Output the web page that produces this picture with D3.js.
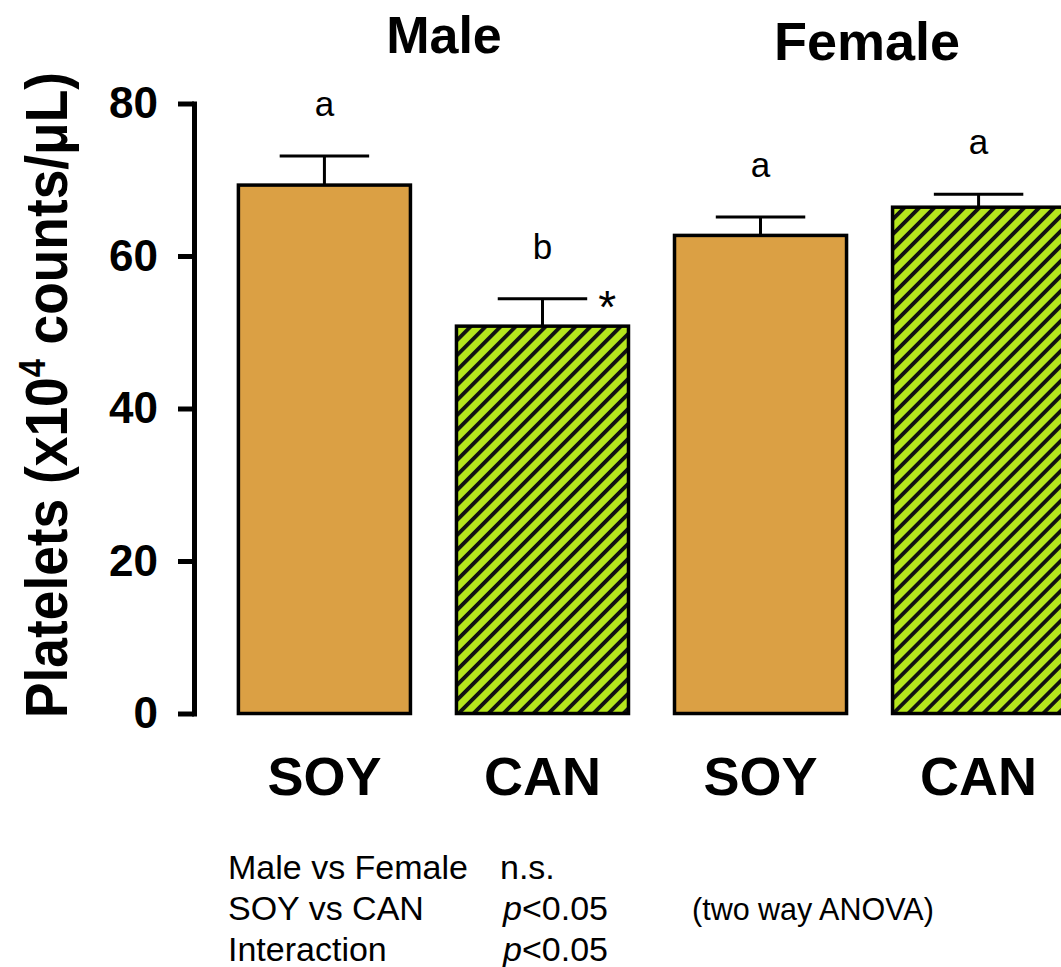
<!DOCTYPE html>
<html>
<head>
<meta charset="utf-8">
<script src="https://cdn.jsdelivr.net/npm/d3@7"></script>
<style>
  body { margin: 0; background: #fff; }
  svg { display: block; font-family: 'Liberation Sans', Arial, sans-serif; }
</style>
</head>
<body>
<svg id="chart" width="1061" height="967"></svg>
<script>
// data
const groups = ['Male', 'Female']
const diets = ['SOY', 'CAN']
const bars = ['Male-SOY', 'Male-CAN', 'Female-SOY', 'Female-CAN']
const means = [69.3, 50.8, 62.7, 66.4]
const errors = [3.8, 3.6, 2.4, 1.7]
const letters = ['a', 'b', 'a', 'a']
const stars = ['', '*', '', '']
const yTicks = [0, 20, 40, 60, 80]
const statRows = ['Male vs Female', 'SOY vs CAN', 'Interaction']
const statValues = ['n.s.', '<0.05', '<0.05']

const svg = d3.select('#chart')

const x = d3.scaleBand()
  .domain(bars)
  .range([215.5, 1087.5])
  .paddingInner(0.211)
  .paddingOuter(0.105)

const y = d3.scaleLinear()
  .domain([0, 80])
  .range([713.5, 103.5])

// hatch for the canola bars
const defs = svg.append('defs')
defs.append('pattern')
    .attr('id', 'hatch')
    .attr('patternUnits', 'userSpaceOnUse')
    .attr('width', 10.6)
    .attr('height', 10.6)
    .attr('patternTransform', 'rotate(45)')
  .call(p => {
    p.append('rect').attr('width', 10.6).attr('height', 10.6).attr('fill', '#b5e61d')
    p.append('rect').attr('width', 3.8).attr('height', 10.6).attr('fill', '#111')
  })

// y axis
const axis = svg.append('g')
    .attr('transform', 'translate(194,0)')
    .call(d3.axisLeft(y).tickValues(yTicks).tickSizeInner(16).tickSizeOuter(0).tickPadding(20))
axis.select('.domain')
    .attr('stroke-width', 5)
    .attr('stroke-linecap', 'square')
axis.selectAll('.tick line').attr('stroke-width', 5)
axis.selectAll('.tick text')
    .attr('font-size', 44)
    .attr('font-weight', 'bold')
    .attr('font-family', "'Liberation Sans', Arial, sans-serif")
    .attr('fill', '#000')

// y axis title
svg.append('text')
    .attr('transform', 'translate(67,395) rotate(-90)')
    .attr('text-anchor', 'middle')
    .attr('font-size', 59)
    .attr('font-weight', 'bold')
    .attr('textLength', 646)
    .attr('lengthAdjust', 'spacingAndGlyphs')
  .call(t => {
    t.append('tspan').text('Platelets (x10')
    t.append('tspan').attr('font-size', 36).attr('dy', -22).text('4')
    t.append('tspan').attr('dy', 22).text(' counts/μL)')
  })

// bars
const barG = svg.append('g')
bars.forEach((b, i) => {
  const cx = x(b) + x.bandwidth() / 2
  const capW = x.bandwidth() * 0.52
  const top = y(means[i] + errors[i])

  // error bar (upper only, drawn behind the bar)
  barG.append('line')
      .attr('x1', cx).attr('x2', cx)
      .attr('y1', y(means[i])).attr('y2', top)
      .attr('stroke', '#000').attr('stroke-width', 3)
  barG.append('line')
      .attr('x1', cx - capW / 2).attr('x2', cx + capW / 2)
      .attr('y1', top).attr('y2', top)
      .attr('stroke', '#000').attr('stroke-width', 3)

  barG.append('rect')
      .attr('x', x(b))
      .attr('y', y(means[i]))
      .attr('width', x.bandwidth())
      .attr('height', y(0) - y(means[i]))
      .attr('fill', b.endsWith('CAN') ? 'url(#hatch)' : '#dba044')
      .attr('stroke', '#000')
      .attr('stroke-width', 3.5)

  barG.append('text')
      .attr('x', cx)
      .attr('y', top - 40)
      .attr('text-anchor', 'middle')
      .attr('font-size', 35)
      .text(letters[i])

  if (stars[i]) {
    barG.append('text')
        .attr('x', cx + capW / 2 + 20)
        .attr('y', top + 24)
        .attr('text-anchor', 'middle')
        .attr('font-size', 46)
        .text(stars[i])
  }

  // category label under each bar
  svg.append('text')
      .attr('x', cx)
      .attr('y', 795)
      .attr('text-anchor', 'middle')
      .attr('font-size', 54)
      .attr('font-weight', 'bold')
      .text(diets[i % 2])
})

// group titles over each pair
const titleX = [444, 867]
const titleY = [53, 60]
const titleSize = [52, 54]
groups.forEach((g, gi) => {
  svg.append('text')
      .attr('x', titleX[gi])
      .attr('y', titleY[gi])
      .attr('text-anchor', 'middle')
      .attr('font-size', titleSize[gi])
      .attr('font-weight', 'bold')
      .text(g)
})

// statistics footnote
statRows.forEach((r, i) => {
  const yy = 879 + i * 41
  svg.append('text')
      .attr('x', 228).attr('y', yy)
      .attr('font-size', 34)
      .text(r)
  const v = svg.append('text')
      .attr('x', i === 0 ? 500 : 503).attr('y', yy)
      .attr('font-size', 34)
  if (statValues[i].startsWith('<')) {
    v.append('tspan').attr('font-style', 'italic').text('p')
    v.append('tspan').text(statValues[i])
  } else {
    v.text(statValues[i])
  }
})
svg.append('text')
    .attr('x', 692).attr('y', 920)
    .attr('font-size', 30.5)
    .text('(two way ANOVA)')
</script>
</body>
</html>
